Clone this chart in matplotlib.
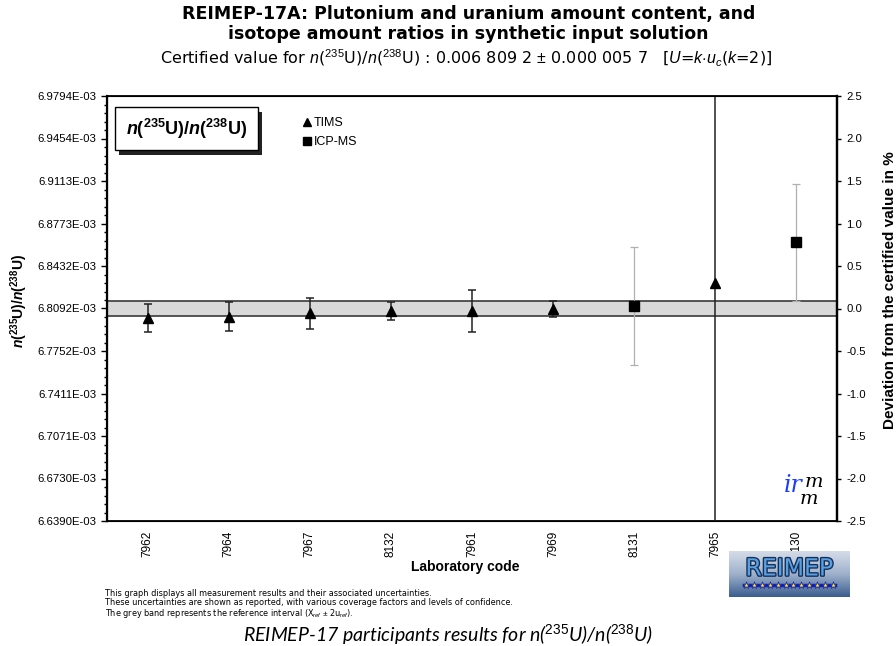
import numpy as np
import matplotlib
matplotlib.use('Agg')
import matplotlib.pyplot as plt
import matplotlib.patches as mpatches
import matplotlib.patheffects as pe

# --- datos ---
labs = ['7962', '7964', '7967', '8132', '7961', '7969', '8131', '7965', '8130']
method = ['TIMS', 'TIMS', 'TIMS', 'TIMS', 'TIMS', 'TIMS', 'ICP-MS', 'TIMS', 'ICP-MS']
values = [0.0068018, 0.0068026, 0.0068053, 0.0068072, 0.0068072,
          0.0068086, 0.0068112, 0.0068294, 0.0068622]
unc = [0.0000111, 0.0000118, 0.0000122, 0.0000073, 0.0000167,
       0.0000065, 0.0000470, 0.0005000, 0.0000467]

ref_value = 0.0068092
ref_U = 0.0000057
dev_limit = 2.5  # %

plt.rcParams['font.family'] = ['Liberation Sans', 'DejaVu Sans']
plt.rcParams['mathtext.fontset'] = 'custom'
plt.rcParams['mathtext.rm'] = 'Liberation Sans'
plt.rcParams['mathtext.it'] = 'Liberation Sans:italic'
plt.rcParams['mathtext.bf'] = 'Liberation Sans:bold'
plt.rcParams['mathtext.bfit'] = 'Liberation Sans:italic:bold'

fig = plt.figure(figsize=(8.96, 6.46), dpi=100)
ax = fig.add_axes([107/896, 1-521/646, 730/896, 425/646])

x = np.arange(len(labs))
ylo = ref_value * (1 - dev_limit/100)
yhi = ref_value * (1 + dev_limit/100)

# banda gris de referencia
ax.axhspan(ref_value - ref_U, ref_value + ref_U, facecolor='#d9d9d9',
           edgecolor='#3a3a3a', lw=1.2, zorder=1)

for i in range(len(labs)):
    if method[i] == 'TIMS':
        ecol, mk, lw = '#222222', '^', 1.1
    else:
        ecol, mk, lw = '#b0b0b0', 's', 0.9
    ax.errorbar(x[i], values[i], yerr=unc[i], fmt=mk, color='black', ms=6.5,
                ecolor=ecol, elinewidth=lw, capsize=3, capthick=lw, zorder=3)

ax.set_xlim(-0.5, len(labs) - 0.5)
ax.set_ylim(ylo, yhi)
ax.set_xticks(x)
ax.set_xticklabels(labs, rotation=90, fontsize=8.5)
ax.tick_params(axis='x', length=0, pad=7)

major = np.linspace(ylo, yhi, 11)
ax.set_yticks(major)
ax.set_yticklabels(['{:.4E}'.format(v) for v in major], fontsize=8.2)
ax.set_yticks(np.linspace(ylo, yhi, 51), minor=True)
ax.tick_params(axis='y', which='major', length=4, width=1, direction='out')
ax.tick_params(axis='y', which='minor', length=2.5, width=1, direction='out')

for side in ['left', 'right']:
    ax.spines[side].set_linewidth(1.6)
ax.spines['top'].set_linewidth(1.3)
ax.spines['bottom'].set_linewidth(1.3)

# eje derecho en %
ax2 = ax.twinx()
ax2.set_ylim(-dev_limit, dev_limit)
ax2.set_yticks(np.arange(-2.5, 2.51, 0.5))
ax2.set_yticklabels(['{:.1f}'.format(v) for v in np.arange(-2.5, 2.51, 0.5)], fontsize=8.2)
ax2.tick_params(axis='y', length=3, width=1)
ax2.spines['right'].set_linewidth(1.6)

# leyenda
tri = plt.Line2D([], [], marker='^', color='black', ls='', ms=5.5)
sq = plt.Line2D([], [], marker='s', color='black', ls='', ms=5.5)
ax.legend([tri, sq], ['TIMS', 'ICP-MS'], loc='upper left',
          bbox_to_anchor=(0.262, 0.965), frameon=False, fontsize=9,
          handlelength=0.45, handletextpad=0.3, labelspacing=0.55, borderpad=0)

# recuadro con sombra
ax.add_patch(mpatches.Rectangle((0.017, 0.862), 0.196, 0.101, transform=ax.transAxes,
                                facecolor='#222222', edgecolor='none', zorder=4))
ax.add_patch(mpatches.Rectangle((0.011, 0.873), 0.196, 0.101, transform=ax.transAxes,
                                facecolor='white', edgecolor='black', lw=1, zorder=5))
ax.text(0.109, 0.9235, r'$\mathbfit{n}\mathbf{(^{235}U)/}\mathbfit{n}\mathbf{(^{238}U)}$',
        transform=ax.transAxes, ha='center', va='center', fontsize=13, zorder=6)

# titulos
fig.text(0.523, 1-14/646, 'REIMEP-17A: Plutonium and uranium amount content, and',
         ha='center', va='center', fontsize=12.5, fontweight='bold', family='DejaVu Sans')
fig.text(0.523, 1-34/646, 'isotope amount ratios in synthetic input solution',
         ha='center', va='center', fontsize=12.5, fontweight='bold', family='DejaVu Sans')
fig.text(0.52, 1-58/646,
         r'Certified value for $n$($^{235}$U)/$n$($^{238}$U) : 0.006 809 2 $\pm$ 0.000 005 7   '
         r'[$U$=$k$$\cdot$$u_c$($k$=2)]',
         ha='center', va='center', fontsize=11.5, family='DejaVu Sans')

fig.text(19/896, 1-301/646, r'$\mathbfit{n}\mathbf{(^{235}U)/}\mathbfit{n}\mathbf{(^{238}U)}$',
         rotation=90, ha='center', va='center', fontsize=10)
fig.text(890/896, 1-290/646, 'Deviation from the certified value in %', rotation=90,
         ha='center', va='center', fontsize=11, fontweight='bold')
fig.text(465/896, 1-567/646, 'Laboratory code', ha='center', va='center',
         fontsize=10, fontweight='bold')

notes = ['This graph displays all measurement results and their associated uncertainties.',
         'These uncertainties are shown as reported, with various coverage factors and levels of confidence.',
         r'The grey band represents the reference interval (X$_{ref}$ $\pm$ 2u$_{ref}$).']
fig.text(105/896, 1-589/646, '\n'.join(notes), ha='left', va='top', fontsize=5.9,
         family='DejaVu Sans', linespacing=1.0)

fig.text(448/896, 1-635/646, r'REIMEP-17 participants results for n($^{235}$U)/n($^{238}$U)',
         ha='center', va='center', fontsize=14, style='italic', family='Lato')

# logo irmm
fig.text(793/896, 1-486/646, 'ir', color='#1a3cff', fontsize=17, family='DejaVu Serif',
         style='italic', ha='center', va='center')
fig.text(814/896, 1-482/646, 'm', color='black', fontsize=14, family='DejaVu Serif',
         style='italic', ha='center', va='center')
fig.text(809/896, 1-499/646, 'm', color='black', fontsize=14, family='DejaVu Serif',
         style='italic', ha='center', va='center')

# logo REIMEP
lax = fig.add_axes([729/896, 1-597/646, 121/896, 46/646])
grad = np.linspace(0, 1, 100).reshape(-1, 1)
lax.imshow(grad, aspect='auto', cmap=matplotlib.colors.LinearSegmentedColormap.from_list(
    'g', ['#d5dce8', '#9fb1cc', '#3b5e8e']), extent=(0, 1, 0, 1), origin='upper')
lax.text(0.5, 0.62, 'REIMEP', ha='center', va='center', fontsize=17, color='#5aa0e0',
         family='DejaVu Sans', path_effects=[pe.withStroke(linewidth=2, foreground='#14305a')])
star_x = np.linspace(0.14, 0.86, 12)
lax.plot([0.12, 0.88], [0.26, 0.26], color='#1020c0', lw=2.5)
lax.scatter(star_x, np.full(12, 0.26), marker='*', s=28, color='#ffe600',
            edgecolors='#1020c0', linewidths=0.5, zorder=3)
lax.set_xlim(0, 1)
lax.set_ylim(0, 1)
lax.axis('off')

fig.savefig('out.png', dpi=100)
